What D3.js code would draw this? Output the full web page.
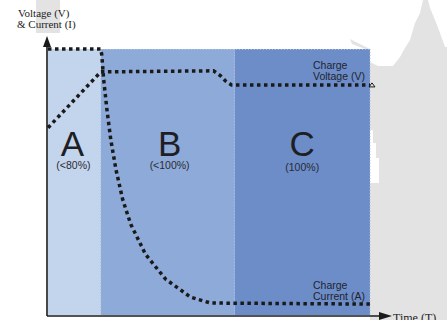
<!DOCTYPE html>
<html>
<head>
<meta charset="utf-8">
<script src="https://cdn.jsdelivr.net/npm/d3@7"></script>
<style>
  body { margin: 0; background: #fff; }
  svg { display: block; }
</style>
</head>
<body>
<script>
// chart size
var w = 447, h = 320;

// charging phases (time units 0-100)
var phases = ["A", "B", "C"];
var phaseEdges = [0, 16.4, 57.9, 100];
var phasePct = ["(<80%)", "(<100%)", "(100%)"];
var phaseColors = ["#c3d4ed", "#8eaad8", "#6c8dc8"];

// voltage curve (time, level)
var voltT = [0, 16.4, 51.4, 53.6, 55.1, 57, 100];
var voltV = [70.4, 91.4, 91.8, 89.9, 88, 86.5, 86.5];

// current curve (time, level)
var currT = [0, 16.4, 16.7, 17.3, 18.3, 19.5, 21.1, 23.2, 25.7, 30.3, 36.5, 44.3, 50.5, 100];
var currI = [100, 100, 97.8, 88.4, 77.2, 65.9, 54.7, 43.4, 34.1, 22.8, 13.5, 6.7, 4.5, 4.1];

var x = d3.scaleLinear().domain([0, 100]).range([48, 370]);
var y = d3.scaleLinear().domain([0, 100]).range([315, 49]);

var svg = d3.select("body").append("svg")
  .attr("width", w)
  .attr("height", h);

// grey scan background bits
svg.append("rect").attr("x", 36).attr("y", 0).attr("width", 24).attr("height", 33).attr("fill", "#e3e3e3");
svg.append("path")
  .attr("fill", "#e3e3e3")
  .attr("d", "M350,39 L352,44 L365,49 L370,49 L370,62 L378,66 L393,66 L400,57 L405,48 L410,40 L415,23 L420,13 L423,0 L428,0 L430,8 L435,20 L440,33 L445,47 L447,47 L447,320 L370,320 L370,183 L379,183 L379,158 L376,158 L376,143 L373,143 L373,130 L370,130 L370,49 Z");

// phase blocks
svg.selectAll("rect.phase")
  .data(phases)
  .enter()
  .append("rect")
  .attr("class", "phase")
  .attr("x", function(d, i) { return x(phaseEdges[i]); })
  .attr("y", y(100))
  .attr("width", function(d, i) { return x(phaseEdges[i + 1]) - x(phaseEdges[i]); })
  .attr("height", y(0) - y(100))
  .attr("fill", function(d, i) { return phaseColors[i]; });

// faint dotted edges between phases
svg.selectAll("line.sep")
  .data(phaseEdges.slice(1))
  .enter()
  .append("line")
  .attr("x1", function(d) { return x(d); })
  .attr("x2", function(d) { return x(d); })
  .attr("y1", y(100))
  .attr("y2", y(0))
  .attr("stroke", "#a9bde3")
  .attr("stroke-width", 1)
  .attr("stroke-dasharray", "1,2");
svg.append("line")
  .attr("x1", x(16.4)).attr("x2", x(100))
  .attr("y1", y(100) + 0.5).attr("y2", y(100) + 0.5)
  .attr("stroke", "#b4c6e8").attr("stroke-width", 1).attr("stroke-dasharray", "1,2");

// big letters + percentages
svg.selectAll("text.letter")
  .data(phases)
  .enter()
  .append("text")
  .attr("x", function(d, i) { return (x(phaseEdges[i]) + x(phaseEdges[i + 1])) / 2 + (i == 0 ? -2 : (i == 2 ? 0 : 2)); })
  .attr("y", 156)
  .attr("text-anchor", "middle")
  .attr("font-family", "Liberation Sans, Arial, sans-serif")
  .attr("font-size", 35)
  .attr("fill", "#1e1e24")
  .text(function(d) { return d; });

svg.selectAll("text.pct")
  .data(phasePct)
  .enter()
  .append("text")
  .attr("x", function(d, i) { return (x(phaseEdges[i]) + x(phaseEdges[i + 1])) / 2 + (i == 0 ? -1 : (i == 2 ? 0 : 2)); })
  .attr("y", function(d, i) { return i == 2 ? 171 : 169; })
  .attr("text-anchor", "middle")
  .attr("font-family", "Liberation Sans, Arial, sans-serif")
  .attr("font-size", 10.5)
  .attr("fill", "#2a2a33")
  .text(function(d) { return d; });

// the two dotted curves
var line = d3.line()
  .x(function(d) { return x(d[0]); })
  .y(function(d) { return y(d[1]); });

var voltPts = voltT.map(function(t, i) { return [t, voltV[i]]; });
var currPts = currT.map(function(t, i) { return [t, currI[i]]; });

[voltPts, currPts].forEach(function(pts) {
  svg.append("path")
    .attr("d", line(pts))
    .attr("fill", "none")
    .attr("stroke", "#1a1a1a")
    .attr("stroke-width", 3.5)
    .attr("stroke-dasharray", "3.5,3.5");
});

// little arrow at end of voltage line
svg.append("path")
  .attr("d", "M" + (x(100) - 1) + "," + (y(86.5) + 2) + " l3,-4 l3,4 z")
  .attr("fill", "none")
  .attr("stroke", "#1a1a1a")
  .attr("stroke-width", 1);

// curve labels
var labels = [["Charge", "Voltage (V)"], ["Charge", "Current (A)"]];
var labelY = [69, 289];
labels.forEach(function(l, i) {
  l.forEach(function(s, j) {
    svg.append("text")
      .attr("x", 313)
      .attr("y", labelY[i] + j * 11)
      .attr("font-family", "Liberation Sans, Arial, sans-serif")
      .attr("font-size", 10.5)
      .attr("fill", "#23232e")
      .text(s);
  });
});

// axes
svg.append("line")
  .attr("x1", x(0) - 1).attr("x2", x(0) - 1)
  .attr("y1", y(0) + 1).attr("y2", 46)
  .attr("stroke", "#1a1a1a").attr("stroke-width", 1.6);
svg.append("path")
  .attr("d", "M" + (x(0) - 1) + ",36 l-4,11 l8,0 z")
  .attr("fill", "#1a1a1a");
svg.append("line")
  .attr("x1", x(0) - 1).attr("x2", 380)
  .attr("y1", y(0) + 1).attr("y2", y(0) + 1)
  .attr("stroke", "#1a1a1a").attr("stroke-width", 1.6);
svg.append("path")
  .attr("d", "M392," + (y(0) + 1) + " l-13,-4 l0,8 z")
  .attr("fill", "#1a1a1a");

svg.append("text")
  .attr("x", 18).attr("y", 17)
  .attr("font-family", "Liberation Serif, Times New Roman, serif")
  .attr("font-size", 11)
  .attr("fill", "#222")
  .text("Voltage (V)");
svg.append("text")
  .attr("x", 17).attr("y", 28)
  .attr("font-family", "Liberation Serif, Times New Roman, serif")
  .attr("font-size", 11)
  .attr("fill", "#222")
  .text("& Current (I)");
svg.append("text")
  .attr("x", 393).attr("y", 322)
  .attr("font-family", "Liberation Serif, Times New Roman, serif")
  .attr("font-size", 12)
  .attr("fill", "#222")
  .text("Time (T)");
</script>
</body>
</html>
